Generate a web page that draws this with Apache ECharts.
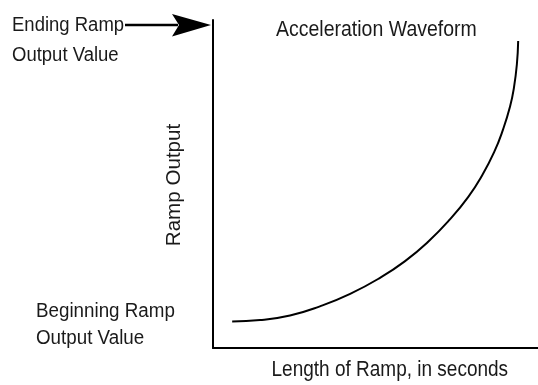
<!DOCTYPE html>
<html>
<head>
<meta charset="utf-8">
<script src="https://cdn.jsdelivr.net/npm/echarts@6/dist/echarts.min.js"></script>
<style>
  html, body { margin: 0; padding: 0; background: #fff; }
  #chart { width: 538px; height: 385px; }
</style>
</head>
<body>
<div id="chart"></div>
<script>
// Acceleration ramp: time along the ramp (percent of ramp length)
const rampTime = [5.9, 14.5, 23.7, 32.9, 42.2, 51.4, 59.1, 66.2, 72.9, 78.5, 82.8, 86.5, 89.2, 91.4, 92.6, 93.5, 93.9];
// Ramp output (percent of full scale)
const rampOutput = [8.1, 8.5, 9.9, 12.7, 16.5, 21.4, 26.5, 32.4, 39.2, 46.0, 52.6, 59.7, 66.5, 73.6, 79.4, 86.5, 93.6];

const chartTitle = 'Acceleration Waveform';
const xAxisName = 'Length of Ramp, in seconds';
const yAxisName = 'Ramp Output';
const endLabel = ['Ending Ramp', 'Output Value'];
const startLabel = ['Beginning Ramp', 'Output Value'];

const FONT = '"Liberation Sans", Arial, sans-serif';

const chart = echarts.init(document.getElementById('chart'), null, { renderer: 'canvas' });

const curve = rampTime.map((t, i) => [t, rampOutput[i]]);

// Text annotation; a slight vertical stretch gives the condensed look of the labels
function label(text, x, y, size, opts) {
  opts = opts || {};
  return {
    type: 'text',
    x: x, y: y,
    rotation: opts.rotation || 0,
    scaleY: opts.scaleY || 1.12,
    silent: true,
    style: {
      text: text,
      x: 0, y: 0,
      textAlign: opts.align || 'left',
      textVerticalAlign: 'middle',
      fontFamily: FONT,
      fontSize: size,
      fill: '#1a1a1a'
    }
  };
}

const axisCommon = {
  type: 'value',
  min: 0,
  max: 100,
  axisLine: { show: true, lineStyle: { color: '#000', width: 2 } },
  axisTick: { show: false },
  axisLabel: { show: false },
  splitLine: { show: false }
};

chart.setOption({
  animation: false,
  backgroundColor: '#fff',
  grid: { left: 213, right: 0, top: 20, bottom: 37, containLabel: false },
  xAxis: Object.assign({}, axisCommon),
  yAxis: Object.assign({}, axisCommon),
  series: [{
    type: 'line',
    data: curve,
    smooth: true,
    showSymbol: false,
    lineStyle: { color: '#000', width: 2 }
  }],
  graphic: [
    label(chartTitle, 276, 29.5, 19.5),
    label(endLabel[0], 12, 25.5, 18.5),
    label(endLabel[1], 12, 55, 18.5),
    label(startLabel[0], 36, 311, 18.8),
    label(startLabel[1], 36, 338.5, 18.8),
    label(xAxisName, 271.5, 370.5, 19),
    label(yAxisName, 174, 185, 20.6, { rotation: Math.PI / 2, align: 'center', scaleY: 1.0 }),
    // pointer from the ending value label to the top of the output axis
    { type: 'line', silent: true, shape: { x1: 125, y1: 25, x2: 178, y2: 25 }, style: { stroke: '#000', lineWidth: 2.5 } },
    { type: 'polygon', silent: true, shape: { points: [[211, 25], [172, 14], [179, 25], [172, 36.5]] }, style: { fill: '#000' } }
  ]
});
</script>
</body>
</html>
